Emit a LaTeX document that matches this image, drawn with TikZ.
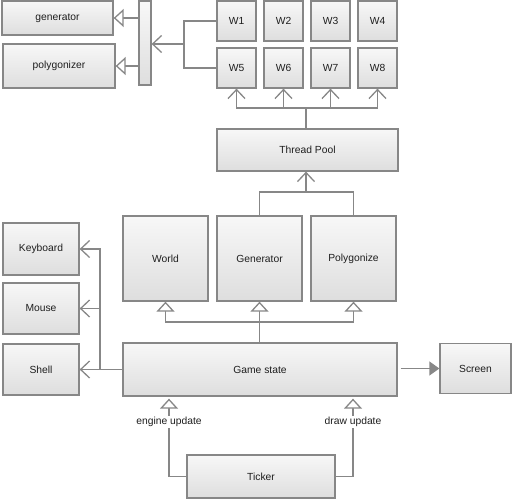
\documentclass[tikz,border=0pt]{standalone}
\usepackage{fontspec}
\setmainfont{Liberation Sans}
\usetikzlibrary{arrows.meta}
\definecolor{edge}{HTML}{878787}
\definecolor{txt}{HTML}{1E1E1E}
\begin{document}
\begin{tikzpicture}[x=1pt,y=-1pt,
  box/.style={draw=edge, line width=1.3pt, top color=white!97!black, bottom color=white!87!black,
    font=\fontsize{10.3}{12}\selectfont, text=txt, inner sep=0pt},
  conn/.style={draw=edge, line width=1.3pt},
  vhead/.style={conn, -{Straight Barb[length=9pt,width=17pt,line width=1.3pt]}},
  thead/.style={conn, -{Triangle[length=10pt,width=18pt,fill=white,line width=1.3pt]}},
  fhead/.style={conn, -{Triangle[length=10pt,width=14pt]}},
  lbl/.style={fill=white, font=\fontsize{10.3}{12}\selectfont, text=txt, inner sep=1pt}]
\useasboundingbox (0,0) rectangle (513,500);

% top-left
\node[box, minimum width=111pt, minimum height=34pt] (gen) at (57.5,18) {generator};
\node[box, minimum width=112pt, minimum height=44pt] (poly) at (59,66) {polygonizer};
\node[box, minimum width=12pt, minimum height=84pt] (bar) at (145,43) {};

% workers
\node[box, minimum width=39pt, minimum height=40pt] (W1) at (236.5,21) {W1};
\node[box, minimum width=39pt, minimum height=40pt] (W2) at (283.5,21) {W2};
\node[box, minimum width=39pt, minimum height=40pt] (W3) at (330.5,21) {W3};
\node[box, minimum width=39pt, minimum height=40pt] (W4) at (377.5,21) {W4};
\node[box, minimum width=39pt, minimum height=40pt] (W5) at (236.5,68) {W5};
\node[box, minimum width=39pt, minimum height=40pt] (W6) at (283.5,68) {W6};
\node[box, minimum width=39pt, minimum height=40pt] (W7) at (330.5,68) {W7};
\node[box, minimum width=39pt, minimum height=40pt] (W8) at (377.5,68) {W8};

\node[box, minimum width=181pt, minimum height=42pt] (TP) at (307.5,150) {Thread Pool};

\node[box, minimum width=85pt, minimum height=85pt] (World) at (165.5,258.5) {World};
\node[box, minimum width=85pt, minimum height=85pt] (Gen) at (259.5,258.5) {Generator};
\node[box, minimum width=85pt, minimum height=85pt] (Pol) at (353.5,258.5) {Polygonize};

\node[box, minimum width=274pt, minimum height=53pt] (GS) at (260,369.5) {Game state};
\node[box, minimum width=71pt, minimum height=50pt] (Screen) at (475.5,368.5) {Screen};

\node[box, minimum width=76pt, minimum height=52pt] (Kbd) at (41,249) {Keyboard};
\node[box, minimum width=76pt, minimum height=51pt] (Mouse) at (41,308.5) {Mouse};
\node[box, minimum width=76pt, minimum height=51pt] (Shell) at (41,369.5) {Shell};

\node[box, minimum width=148pt, minimum height=43pt] (Ticker) at (261,476.5) {Ticker};

% connectors top-left
\draw[thead] (bar.west |- gen.east) -- (gen.east);
\draw[thead] (bar.west |- poly.east) -- (poly.east);
\coordinate (wj) at (184,44);
\draw[conn] (W1.west) -| (wj);
\draw[conn] (W5.west) -| (wj);
\draw[vhead] (wj) -- (bar.east |- wj);

% thread pool to workers
\coordinate (tj) at (306,108);
\draw[conn] (TP.north -| tj) -- (tj);
\draw[vhead] (tj) -| (W5.south);
\draw[vhead] (tj) -| (W6.south);
\draw[vhead] (tj) -| (W7.south);
\draw[vhead] (tj) -| (W8.south);

% generator/polygonize to thread pool
\coordinate (gj) at (306,192);
\draw[conn] (Gen.north) |- (gj);
\draw[conn] (Pol.north) |- (gj);
\draw[vhead] (gj) -- (TP.south -| gj);

% game state to world/generator/polygonize
\coordinate (sj) at (259.5,322);
\draw[thead] (GS.north -| Gen.south) -- (Gen.south);
\draw[thead] (sj) -| (World.south);
\draw[thead] (sj) -| (Pol.south);

% game state to inputs
\coordinate (lj) at (100,369.5);
\draw[vhead] (GS.west) -- (Shell.east);
\draw[vhead] (lj) |- (Mouse.east);
\draw[vhead] (lj) |- (Kbd.east);

% game state to screen
\draw[fhead, shorten <=3pt] (GS.east |- Screen.west) -- (Screen.west);

% ticker
\coordinate (el) at (169,422);
\coordinate (dl) at (353,422);
\draw[conn] (Ticker.west) -| (el);
\draw[conn] (Ticker.east) -| (dl);
\draw[thead, shorten >=2pt] (el) -- (el |- GS.south);
\draw[thead, shorten >=2pt] (dl) -- (dl |- GS.south);
\node[lbl] (elab) at (el) {engine update};
\node[lbl] (dlab) at (dl) {draw update};
\end{tikzpicture}
\end{document}
